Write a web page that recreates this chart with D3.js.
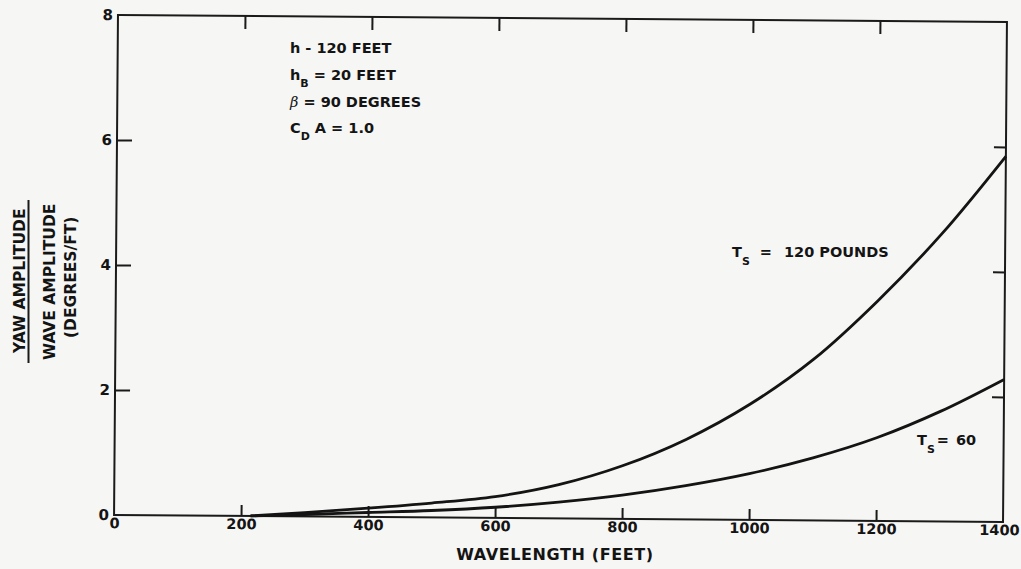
<!DOCTYPE html>
<html>
<head>
<meta charset="utf-8">
<script src="https://cdn.jsdelivr.net/npm/d3@7"></script>
<style>
  body { margin: 0; background: #f6f6f4; }
  text { font-family: "DejaVu Sans", "Liberation Sans", Arial, sans-serif; font-weight: bold; fill: #141414; }
</style>
</head>
<body>
<div id="chart"></div>
<script>
// wavelength (feet) and yaw amplitude / wave amplitude (deg/ft)
const wavelength = [215, 300, 400, 500, 600, 700, 800, 900, 1000, 1100, 1200, 1300, 1400];
const yawTs120 = [0, 0.06, 0.14, 0.23, 0.34, 0.54, 0.85, 1.28, 1.85, 2.58, 3.52, 4.60, 5.85];
const yawTs60 = [0, 0.03, 0.07, 0.11, 0.17, 0.26, 0.38, 0.54, 0.74, 1.00, 1.33, 1.76, 2.28];
const xTicks = [0, 200, 400, 600, 800, 1000, 1200, 1400];
const yTicks = [0, 2, 4, 6, 8];

const W = 1021, H = 569;
const margin = { left: 116, top: 18.4 };
const width = 889, height = 500;
const cx = margin.left + width / 2, cy = margin.top + height / 2;

const svg = d3.select('#chart').append('svg')
  .attr('width', W).attr('height', H);

// the scanned figure is slightly tilted
const g = svg.append('g')
  .attr('transform', `rotate(0.45, ${cx}, ${cy}) translate(${margin.left},${margin.top})`);

const x = d3.scaleLinear().domain([0, 1400]).range([0, width]);
const y = d3.scaleLinear().domain([0, 8]).range([height, 0]);

// frame
g.append('rect')
  .attr('width', width).attr('height', height)
  .attr('fill', 'none').attr('stroke', '#1a1a1a').attr('stroke-width', 2);

// bottom axis, ticks pointing inward
const xAxis = g.append('g')
  .attr('transform', `translate(0,${height})`)
  .call(d3.axisBottom(x).tickValues(xTicks).tickSize(-11).tickPadding(3).tickFormat(d3.format('d')));
// top ticks
const xTop = g.append('g')
  .call(d3.axisTop(x).tickValues(xTicks.slice(1, -1)).tickSize(-13).tickFormat(''));
// left axis
const yAxis = g.append('g')
  .call(d3.axisLeft(y).tickValues(yTicks).tickSize(-15).tickPadding(5));
// right ticks
const yRight = g.append('g')
  .attr('transform', `translate(${width},0)`)
  .call(d3.axisRight(y).tickValues(yTicks.slice(1, -1)).tickSize(-12).tickFormat(''));

[xAxis, xTop, yAxis, yRight].forEach(a => {
  a.select('.domain').remove();
  a.selectAll('.tick line').attr('stroke', '#1a1a1a').attr('stroke-width', 2);
  a.selectAll('text').attr('font-size', 15).attr('font-family', null).attr('fill', '#141414');
});
xAxis.selectAll('text').attr('font-size', 14.5);
// end ticks fall on the frame
xAxis.selectAll('.tick').filter(d => d === 0 || d === 1400).select('line').remove();
yAxis.selectAll('.tick').filter(d => d === 0 || d === 8).select('line').remove();
// keep the last label inside the page, as in the scan
xAxis.selectAll('.tick').filter(d => d === 1400).select('text').attr('dx', -4);

// curves
const line = d3.line()
  .x(d => x(d[0]))
  .y(d => y(d[1]))
  .curve(d3.curveCatmullRom.alpha(0.5));

[yawTs120, yawTs60].forEach(series => {
  g.append('path')
    .datum(wavelength.map((w, i) => [w, series[i]]))
    .attr('d', line)
    .attr('fill', 'none')
    .attr('stroke', '#141414')
    .attr('stroke-width', 2.8);
});

// annotations (placed in page coordinates)
const notes = svg.append('g').attr('font-size', 14.5);
notes.append('text').attr('x', 290).attr('y', 53).text('h - 120 FEET');
const hb = notes.append('text').attr('x', 290).attr('y', 80);
hb.append('tspan').text('h');
hb.append('tspan').attr('font-size', 11).attr('dy', 7).text('B');
hb.append('tspan').attr('dy', -7).text(' = 20 FEET');
const be = notes.append('text').attr('x', 290).attr('y', 107);
be.append('tspan').attr('font-style', 'italic').attr('font-weight', 'normal')
  .attr('font-family', '"DejaVu Serif", serif').text('β');
be.append('tspan').text(' = 90 DEGREES');
const cd = notes.append('text').attr('x', 290).attr('y', 133);
cd.append('tspan').text('C');
cd.append('tspan').attr('font-size', 11).attr('dy', 7).text('D');
cd.append('tspan').attr('dy', -7).text(' A = 1.0');

const t120 = notes.append('text').attr('x', 732).attr('y', 257);
t120.append('tspan').text('T');
t120.append('tspan').attr('font-size', 11).attr('dy', 8).text('S');
t120.append('tspan').attr('dy', -8).attr('dx', 10).text('=');
t120.append('tspan').attr('dx', 12).text('120 POUNDS');

const t60 = notes.append('text').attr('x', 917).attr('y', 445);
t60.append('tspan').text('T');
t60.append('tspan').attr('font-size', 11).attr('dy', 8).text('S');
t60.append('tspan').attr('dy', -8).attr('dx', 2).text('=');
t60.append('tspan').attr('dx', 7).text('60');

// axis titles
svg.append('text')
  .attr('x', 555).attr('y', 560)
  .attr('text-anchor', 'middle')
  .attr('font-size', 16)
  .attr('letter-spacing', 0.6)
  .text('WAVELENGTH (FEET)');

const yLab = [
  { t: 'YAW AMPLITUDE', x: 25, y: 353 },
  { t: 'WAVE AMPLITUDE', x: 55, y: 360 },
  { t: '(DEGREES/FT)', x: 76, y: 338 }
];
yLab.forEach(d => {
  svg.append('text')
    .attr('transform', `translate(${d.x},${d.y}) rotate(-90)`)
    .attr('font-size', 15.5)
    .text(d.t);
});
// fraction bar
svg.append('line')
  .attr('x1', 28.5).attr('x2', 28.5)
  .attr('y1', 200).attr('y2', 363)
  .attr('stroke', '#1a1a1a').attr('stroke-width', 2);
</script>
</body>
</html>
